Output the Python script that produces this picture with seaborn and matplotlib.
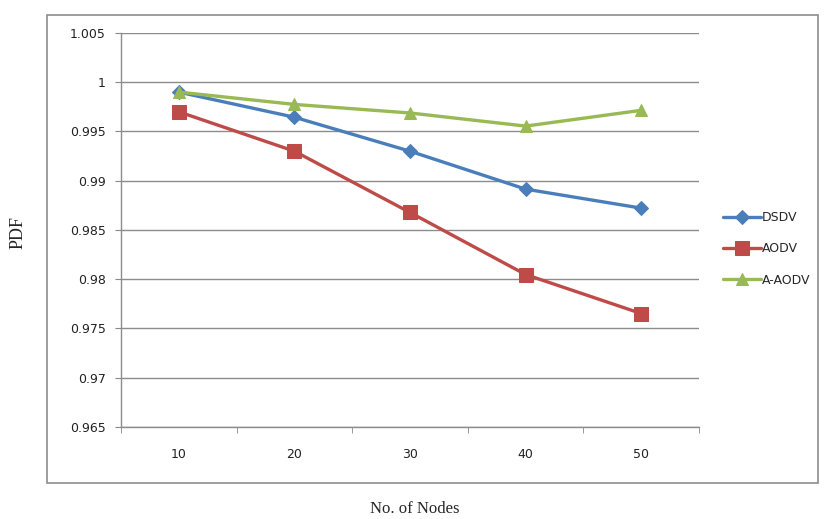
import pandas as pd
import matplotlib
matplotlib.use('Agg')
import matplotlib.pyplot as plt
import seaborn as sns
from matplotlib.patches import Rectangle

sns.set_style("white")
plt.rcParams['font.family'] = ['DejaVu Sans']

nodes = [10, 20, 30, 40, 50]
dsdv = [0.9990, 0.99645, 0.9930, 0.98915, 0.98722]
aodv = [0.9970, 0.9930, 0.98678, 0.98048, 0.97652]
a_aodv = [0.9990, 0.99775, 0.99688, 0.99555, 0.99715]
protocols = ['DSDV', 'AODV', 'A-AODV']
y_ticks = [0.965, 0.97, 0.975, 0.98, 0.985, 0.99, 0.995, 1.0, 1.005]
y_labels = ['0.965', '0.97', '0.975', '0.98', '0.985', '0.99', '0.995', '1', '1.005']

df = pd.DataFrame({
    'Nodes': nodes * 3,
    'PDF': dsdv + aodv + a_aodv,
    'Protocol': [p for p in protocols for _ in nodes],
})

colors = {'DSDV': '#4A7EBB', 'AODV': '#BE4B48', 'A-AODV': '#98B954'}
markers = {'DSDV': 'D', 'AODV': 's', 'A-AODV': '^'}
msizes = {'DSDV': 7, 'AODV': 9.5, 'A-AODV': 8.5}

fig = plt.figure(figsize=(8.24, 5.19), dpi=100)
fig.patches.append(Rectangle((47 / 824, 1 - 483 / 519), (818 - 47) / 824, (483 - 15) / 519,
                             transform=fig.transFigure, fill=False, edgecolor='#8c8c8c', linewidth=1.2))
ax = fig.add_axes([121 / 824, 1 - 427 / 519, (699 - 121) / 824, (427 - 33) / 519])

for p in protocols:
    sub = df[df['Protocol'] == p]
    sns.lineplot(data=sub, x='Nodes', y='PDF', ax=ax, color=colors[p], marker=markers[p],
                 markersize=msizes[p], markeredgecolor=colors[p], linewidth=2.4, label=p)

ax.set_xlim(5, 55)
ax.set_ylim(0.965, 1.005)
ax.set_yticks(y_ticks)
ax.set_yticklabels(y_labels, fontsize=9, color='#222222')
ax.set_xticks(nodes)
ax.set_xticklabels([str(n) for n in nodes], fontsize=9, color='#222222')
ax.set_xticks([5, 15, 25, 35, 45, 55], minor=True)
ax.tick_params(axis='x', which='major', length=0, pad=15)
ax.tick_params(axis='x', which='minor', length=4, direction='out', color='#888888', bottom=True)
ax.tick_params(axis='y', length=4, direction='out', color='#888888', left=True, pad=7)
ax.yaxis.grid(True, color='#8c8c8c', linewidth=1)
ax.set_axisbelow(True)
for s in ['top', 'right']:
    ax.spines[s].set_visible(False)
for s in ['left', 'bottom']:
    ax.spines[s].set_color('#8c8c8c')
    ax.spines[s].set_linewidth(1)
ax.set_xlabel('')
ax.set_ylabel('')

ax.legend(loc='center left', bbox_to_anchor=(712 / 824, 1 - 249 / 519), bbox_transform=fig.transFigure,
          frameon=False, fontsize=9, handlelength=3.0, handletextpad=0.1, labelspacing=1.45)

fig.text(18 / 824, 1 - 232 / 519, 'PDF', rotation=90, ha='center', va='center',
         family='Liberation Serif', fontsize=13)
fig.text(415 / 824, 1 - 509 / 519, 'No. of Nodes', ha='center', va='center',
         family='Liberation Serif', fontsize=12)

fig.savefig('out.png', dpi=100)
